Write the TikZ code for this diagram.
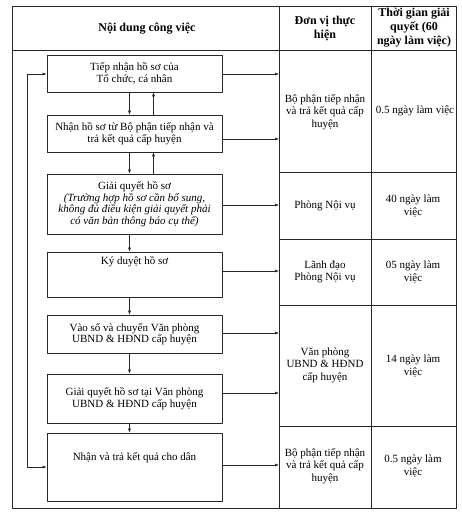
\documentclass[tikz,border=0pt]{standalone}
\usepackage{fontspec}
\setmainfont{Liberation Serif}
\usetikzlibrary{arrows.meta,positioning}

\begin{document}
\begin{tikzpicture}[x=1pt, y=-1pt, line join=round,
    hop/.style={draw=black!85, line width=0.6pt, minimum width=175pt, inner sep=2pt,
        align=center, font=\fontsize{11}{11.5}\selectfont},
    chu/.style={align=center, font=\fontsize{11}{12.5}\selectfont},
    tieude/.style={align=center, font=\fontsize{12}{14}\selectfont\bfseries},
    muiten/.style={-{Latex[length=4pt,width=3pt]}, line width=0.5pt, draw=black!85},
    haimui/.style={{Latex[length=4pt,width=3pt]}-{Latex[length=4pt,width=3pt]}, line width=0.5pt, draw=black!85}]
    \useasboundingbox (0,0) rectangle (461,514);

    % Khung bảng
    \draw[line width=0.6pt, black!85] (12,6) rectangle (456,508);
    \draw[line width=0.6pt, black!85] (12,50) -- (456,50);
    \draw[line width=0.6pt, black!85] (279,6) -- (279,508);
    \draw[line width=0.6pt, black!85] (371,6) -- (371,508);

    % Các dòng của hai cột bên phải
    \draw[line width=0.6pt, black!85] (279,172) -- (456,172);
    \draw[line width=0.6pt, black!85] (279,239) -- (456,239);
    \draw[line width=0.6pt, black!85] (279,305) -- (456,305);
    \draw[line width=0.6pt, black!85] (279,426) -- (456,426);

    % Tiêu đề
    \node[tieude] (h1) at (147,29) {Nội dung công việc};
    \node[tieude] (h2) at (325,29) {Đơn vị thực\\hiện};
    \node[tieude] (h3) at (414,28) {Thời gian giải\\quyết (60\\ngày làm việc)};

    % Các bước xử lý
    \node[hop, minimum height=37pt] (b1) at (134.5,73.5) {Tiếp nhận hồ sơ của\\Tổ chức, cá nhân};
    \node[hop, minimum height=37pt] (b2) at (134.5,133.5) {Nhận hồ sơ từ Bộ phận tiếp nhận và\\trả kết quả cấp huyện};
    \node[hop, minimum height=60pt] (b3) at (134.5,204) {Giải quyết hồ sơ\\\itshape(Trường hợp hồ sơ cần bổ sung,\\\itshape không đủ điều kiện giải quyết phải\\\itshape có văn bản thông báo cụ thể)};
    \node[hop, minimum height=45pt] (b4) at (134.5,274.5) {};
    \node[hop, minimum height=38pt] (b5) at (134.5,334) {Vào số và chuyển Văn phòng\\UBND \& HĐND cấp huyện};
    \node[hop, minimum height=49pt] (b6) at (134.5,398.5) {Giải quyết hồ sơ tại Văn phòng\\UBND \& HĐND cấp huyện};
    \node[hop, minimum height=68pt] (b7) at (134.5,467) {};

    % Chữ đặt lệch lên trên trong hai ô
    \node[chu] (t4) at (134.5,262) {Ký duyệt hồ sơ};
    \node[chu] (t7) at (134.5,458) {Nhận và trả kết quả cho dân};

    % Mũi tên giữa các bước
    \draw[muiten] ([xshift=-5pt]b1.south) -- ([xshift=-5pt]b2.north);
    \draw[muiten] ([xshift=19pt]b2.north) -- ([xshift=19pt]b1.south);
    \draw[muiten] ([xshift=-5pt]b2.south) -- ([xshift=-5pt]b3.north);
    \draw[muiten] ([xshift=19pt]b3.north) -- ([xshift=19pt]b2.south);
    \draw[muiten] ([xshift=-5pt]b3.south) -- ([xshift=-5pt]b4.north);
    \draw[muiten] ([xshift=-5pt]b4.south) -- ([xshift=-5pt]b5.north);
    \draw[muiten] ([xshift=-5pt]b5.south) -- ([xshift=-5pt]b6.north);
    \draw[muiten] ([xshift=-5pt]b6.south) -- ([xshift=-5pt]b7.north);

    % Điểm cuối mũi tên trên đường kẻ cột
    \coordinate (r1) at (279,74);
    \coordinate (r2) at (279,139);
    \coordinate (r3) at (279,205);
    \coordinate (r4) at (279,271);
    \coordinate (r5) at (279,333);
    \coordinate (r6) at (279,393);
    \coordinate (r7) at (279,465);

    % Mũi tên sang cột đơn vị thực hiện
    \draw[muiten] (b1.east |- r1) -- (r1);
    \draw[muiten] (b2.east |- r2) -- (r2);
    \draw[muiten] (b3.east |- r3) -- (r3);
    \draw[muiten] (b4.east |- r4) -- (r4);
    \draw[muiten] (b5.east |- r5) -- (r5);
    \draw[muiten] (b6.east |- r6) -- (r6);
    \draw[muiten] (b7.east |- r7) -- (r7);

    % Đường vòng bên trái nối bước cuối với bước đầu
    \coordinate (v1) at (27,74);
    \coordinate (v7) at (27,467);
    \draw[haimui] (b1.west |- v1) -- (v1) -- (v7) -- (b7.west |- v7);

    % Đơn vị thực hiện và thời gian
    \node[chu] (dv1) at (325,112) {Bộ phận tiếp nhận\\và trả kết quả cấp\\huyện};
    \node[chu] (tg1) at (415,111) {0.5 ngày làm việc};
    \node[chu] (dv2) at (325,206) {Phòng Nội vụ};
    \node[chu] (tg2) at (413,206) {40 ngày làm\\việc};
    \node[chu] (dv3) at (325,272) {Lãnh đạo\\Phòng Nội vụ};
    \node[chu] (tg3) at (413,272) {05 ngày làm\\việc};
    \node[chu] (dv4) at (325,365) {Văn phòng\\UBND \& HĐND\\cấp huyện};
    \node[chu] (tg4) at (413,366) {14 ngày làm\\việc};
    \node[chu] (dv5) at (325,466) {Bộ phận tiếp nhận\\và trả kết quả cấp\\huyện};
    \node[chu] (tg5) at (413,466) {0.5 ngày làm\\việc};
\end{tikzpicture}
\end{document}
